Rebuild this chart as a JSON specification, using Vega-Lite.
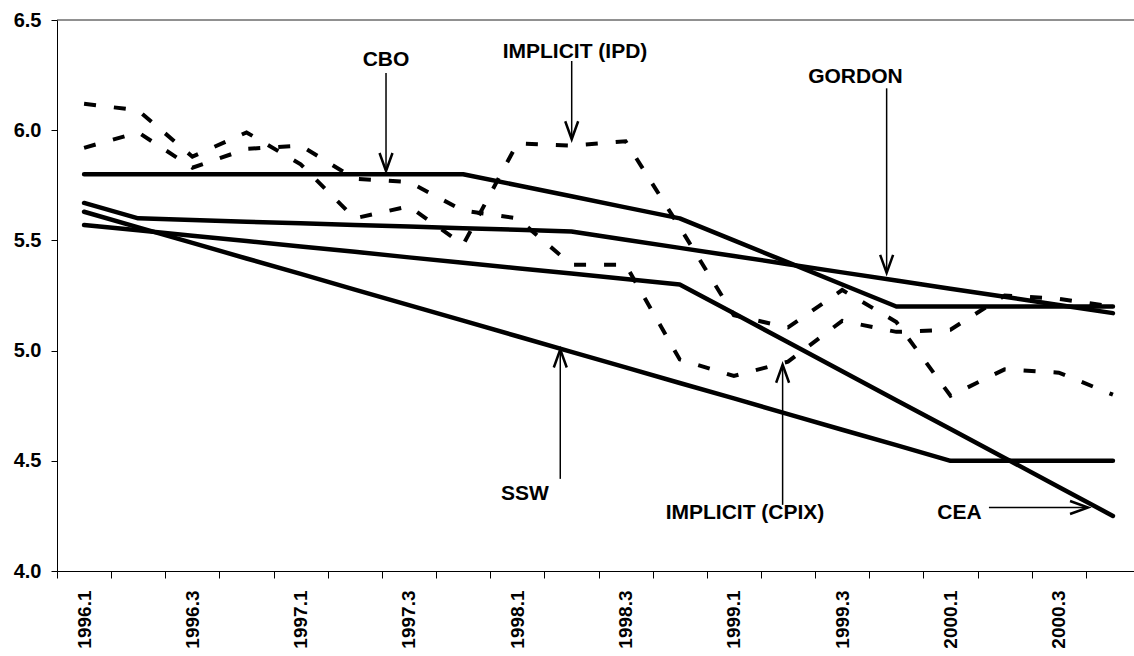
{
  "$schema": "https://vega.github.io/schema/vega-lite/v6.json",
  "width": 1077,
  "height": 551,
  "autosize": {"type": "none"},
  "padding": {"left": 57, "top": 20, "right": 0, "bottom": 85},
  "background": "white",
  "config": {
    "view": {"stroke": null},
    "font": "Liberation Sans",
    "axis": {"grid": false, "domainColor": "black", "tickColor": "black", "labelColor": "black", "labelFontWeight": "bold", "domainWidth": 1, "tickWidth": 1}
  },
  "datasets": {
    "forecasts": [
      {"series":"CBO","t":0,"v":5.8},{"series":"CBO","t":1,"v":5.8},{"series":"CBO","t":2,"v":5.8},{"series":"CBO","t":3,"v":5.8},{"series":"CBO","t":4,"v":5.8},
      {"series":"CBO","t":5,"v":5.8},{"series":"CBO","t":6,"v":5.8},{"series":"CBO","t":7,"v":5.8},{"series":"CBO","t":8,"v":5.75},{"series":"CBO","t":9,"v":5.7},
      {"series":"CBO","t":10,"v":5.65},{"series":"CBO","t":11,"v":5.6},{"series":"CBO","t":12,"v":5.5},{"series":"CBO","t":13,"v":5.4},{"series":"CBO","t":14,"v":5.3},
      {"series":"CBO","t":15,"v":5.2},{"series":"CBO","t":16,"v":5.2},{"series":"CBO","t":17,"v":5.2},{"series":"CBO","t":18,"v":5.2},{"series":"CBO","t":19,"v":5.2},
      {"series":"GORDON","t":0,"v":5.67},{"series":"GORDON","t":1,"v":5.6},{"series":"GORDON","t":2,"v":5.593},{"series":"GORDON","t":3,"v":5.585},{"series":"GORDON","t":4,"v":5.578},
      {"series":"GORDON","t":5,"v":5.57},{"series":"GORDON","t":6,"v":5.563},{"series":"GORDON","t":7,"v":5.555},{"series":"GORDON","t":8,"v":5.548},{"series":"GORDON","t":9,"v":5.54},
      {"series":"GORDON","t":10,"v":5.503},{"series":"GORDON","t":11,"v":5.466},{"series":"GORDON","t":12,"v":5.429},{"series":"GORDON","t":13,"v":5.392},{"series":"GORDON","t":14,"v":5.355},
      {"series":"GORDON","t":15,"v":5.318},{"series":"GORDON","t":16,"v":5.281},{"series":"GORDON","t":17,"v":5.244},{"series":"GORDON","t":18,"v":5.207},{"series":"GORDON","t":19,"v":5.17},
      {"series":"SSW","t":0,"v":5.63},{"series":"SSW","t":1,"v":5.559},{"series":"SSW","t":2,"v":5.489},{"series":"SSW","t":3,"v":5.418},{"series":"SSW","t":4,"v":5.348},
      {"series":"SSW","t":5,"v":5.277},{"series":"SSW","t":6,"v":5.206},{"series":"SSW","t":7,"v":5.136},{"series":"SSW","t":8,"v":5.065},{"series":"SSW","t":9,"v":4.994},
      {"series":"SSW","t":10,"v":4.924},{"series":"SSW","t":11,"v":4.853},{"series":"SSW","t":12,"v":4.783},{"series":"SSW","t":13,"v":4.712},{"series":"SSW","t":14,"v":4.641},
      {"series":"SSW","t":15,"v":4.571},{"series":"SSW","t":16,"v":4.5},{"series":"SSW","t":17,"v":4.5},{"series":"SSW","t":18,"v":4.5},{"series":"SSW","t":19,"v":4.5},
      {"series":"CEA","t":0,"v":5.57},{"series":"CEA","t":1,"v":5.546},{"series":"CEA","t":2,"v":5.521},{"series":"CEA","t":3,"v":5.497},{"series":"CEA","t":4,"v":5.472},
      {"series":"CEA","t":5,"v":5.448},{"series":"CEA","t":6,"v":5.423},{"series":"CEA","t":7,"v":5.399},{"series":"CEA","t":8,"v":5.374},{"series":"CEA","t":9,"v":5.35},
      {"series":"CEA","t":10,"v":5.325},{"series":"CEA","t":11,"v":5.3},{"series":"CEA","t":12,"v":5.169},{"series":"CEA","t":13,"v":5.038},{"series":"CEA","t":14,"v":4.906},
      {"series":"CEA","t":15,"v":4.775},{"series":"CEA","t":16,"v":4.644},{"series":"CEA","t":17,"v":4.513},{"series":"CEA","t":18,"v":4.381},{"series":"CEA","t":19,"v":4.25}
    ],
    "implicit": [
      {"series":"IPD","t":0,"v":6.12},{"series":"IPD","t":1,"v":6.09},{"series":"IPD","t":2,"v":5.88},{"series":"IPD","t":3,"v":5.99},{"series":"IPD","t":4,"v":5.845},
      {"series":"IPD","t":5,"v":5.6},{"series":"IPD","t":6,"v":5.655},{"series":"IPD","t":7,"v":5.48},{"series":"IPD","t":8,"v":5.94},{"series":"IPD","t":9,"v":5.93},
      {"series":"IPD","t":10,"v":5.95},{"series":"IPD","t":11,"v":5.56},{"series":"IPD","t":12,"v":5.16},{"series":"IPD","t":13,"v":5.105},{"series":"IPD","t":14,"v":5.275},
      {"series":"IPD","t":15,"v":5.13},{"series":"IPD","t":16,"v":4.795},{"series":"IPD","t":17,"v":4.915},{"series":"IPD","t":18,"v":4.9},{"series":"IPD","t":19,"v":4.8},
      {"series":"CPIX","t":0,"v":5.92},{"series":"CPIX","t":1,"v":5.99},{"series":"CPIX","t":2,"v":5.83},{"series":"CPIX","t":3,"v":5.915},{"series":"CPIX","t":4,"v":5.93},
      {"series":"CPIX","t":5,"v":5.78},{"series":"CPIX","t":6,"v":5.765},{"series":"CPIX","t":7,"v":5.635},{"series":"CPIX","t":8,"v":5.6},{"series":"CPIX","t":9,"v":5.39},
      {"series":"CPIX","t":10,"v":5.39},{"series":"CPIX","t":11,"v":4.96},{"series":"CPIX","t":12,"v":4.885},{"series":"CPIX","t":13,"v":4.95},{"series":"CPIX","t":14,"v":5.135},
      {"series":"CPIX","t":15,"v":5.085},{"series":"CPIX","t":16,"v":5.095},{"series":"CPIX","t":17,"v":5.25},{"series":"CPIX","t":18,"v":5.235},{"series":"CPIX","t":19,"v":5.2}
    ],
    "notes": [
      {"label":"CBO","tx":5.576,"ty":6.318,"t":5.576,"v":6.259,"t2":5.576,"v2":5.815,"dir":"down"},
      {"label":"IMPLICIT (IPD)","tx":9.066,"ty":6.357,"t":9.005,"v":6.314,"t2":9.005,"v2":5.959,"dir":"down"},
      {"label":"GORDON","tx":14.245,"ty":6.243,"t":14.821,"v":6.19,"t2":14.821,"v2":5.353,"dir":"down"},
      {"label":"SSW","tx":8.143,"ty":4.348,"t":8.794,"v":4.418,"t2":8.794,"v2":5.005,"dir":"up"},
      {"label":"IMPLICIT (CPIX)","tx":12.205,"ty":4.264,"t":12.9,"v":4.3,"t2":12.9,"v2":4.936,"dir":"up"},
      {"label":"CEA","tx":16.165,"ty":4.262,"t":16.71,"v":4.288,"t2":18.54,"v2":4.288,"dir":"right"}
    ]
  },
  "layer": [
    {
      "data": {"name": "forecasts"},
      "mark": {"type": "line", "color": "black", "strokeWidth": 4.5, "strokeCap": "round", "strokeJoin": "round"},
      "encoding": {
        "x": {
          "field": "t", "type": "quantitative", "title": null,
          "scale": {"domain": [-0.5, 19.389], "nice": false, "zero": false},
          "axis": {
            "values": [-0.5,0.5,1.5,2.5,3.5,4.5,5.5,6.5,7.5,8.5,9.5,10.5,11.5,12.5,13.5,14.5,15.5,16.5,17.5,18.5],
            "labelExpr": "(datum.value + 0.5) % 2 == 0 ? (1996 + floor((datum.value + 0.5) / 4)) + '.' + ((datum.value + 0.5) % 4 + 1) : ''",
            "labelOffset": 27,
            "labelAngle": -90,
            "labelAlign": "right",
            "labelBaseline": "middle",
            "labelFontSize": 19,
            "labelPadding": 12,
            "labelFlush": false,
            "labelOverlap": false,
            "labelBound": false,
            "tickSize": 7
          }
        },
        "y": {
          "field": "v", "type": "quantitative", "title": null,
          "scale": {"domain": [4, 6.5], "nice": false, "zero": false},
          "axis": {
            "values": [4, 4.5, 5, 5.5, 6, 6.5],
            "format": ".1f",
            "labelFontSize": 20,
            "labelPadding": 10,
            "tickSize": 6
          }
        },
        "detail": {"field": "series"}
      }
    },
    {
      "data": {"name": "implicit"},
      "mark": {"type": "line", "color": "black", "strokeWidth": 4, "strokeDash": [12, 18], "strokeCap": "butt", "strokeJoin": "miter"},
      "encoding": {
        "x": {"field": "t", "type": "quantitative", "title": null},
        "y": {"field": "v", "type": "quantitative", "title": null},
        "detail": {"field": "series"}
      }
    },
    {
      "data": {"values": [{"top": 6.5}]},
      "mark": {"type": "rule", "color": "#222222", "strokeWidth": 1},
      "encoding": {"y": {"field": "top", "type": "quantitative", "title": null}}
    },
    {
      "data": {"name": "notes"},
      "mark": {"type": "rule", "color": "black", "strokeWidth": 1.5},
      "encoding": {
        "x": {"field": "t", "type": "quantitative", "title": null},
        "y": {"field": "v", "type": "quantitative", "title": null},
        "x2": {"field": "t2"},
        "y2": {"field": "v2"}
      }
    },
    {
      "data": {"name": "notes"},
      "transform": [{"filter": "datum.dir == 'down'"}],
      "mark": {"type": "point", "shape": "M -0.36 -1 L 0 0 L 0.36 -1", "size": 1296, "filled": false, "stroke": "black", "strokeWidth": 2.5, "opacity": 1},
      "encoding": {
        "x": {"field": "t2", "type": "quantitative", "title": null},
        "y": {"field": "v2", "type": "quantitative", "title": null}
      }
    },
    {
      "data": {"name": "notes"},
      "transform": [{"filter": "datum.dir == 'up'"}],
      "mark": {"type": "point", "shape": "M -0.36 1 L 0 0 L 0.36 1", "size": 1296, "filled": false, "stroke": "black", "strokeWidth": 2.5, "opacity": 1},
      "encoding": {
        "x": {"field": "t2", "type": "quantitative", "title": null},
        "y": {"field": "v2", "type": "quantitative", "title": null}
      }
    },
    {
      "data": {"name": "notes"},
      "transform": [{"filter": "datum.dir == 'right'"}],
      "mark": {"type": "point", "shape": "M -1 -0.36 L 0 0 L -1 0.36", "size": 1296, "filled": false, "stroke": "black", "strokeWidth": 2.5, "opacity": 1},
      "encoding": {
        "x": {"field": "t2", "type": "quantitative", "title": null},
        "y": {"field": "v2", "type": "quantitative", "title": null}
      }
    },
    {
      "data": {"name": "notes"},
      "mark": {"type": "text", "font": "Liberation Sans", "fontWeight": "bold", "fontSize": 21, "align": "center", "baseline": "middle", "color": "black"},
      "encoding": {
        "x": {"field": "tx", "type": "quantitative", "title": null},
        "y": {"field": "ty", "type": "quantitative", "title": null},
        "text": {"field": "label"}
      }
    }
  ]
}
